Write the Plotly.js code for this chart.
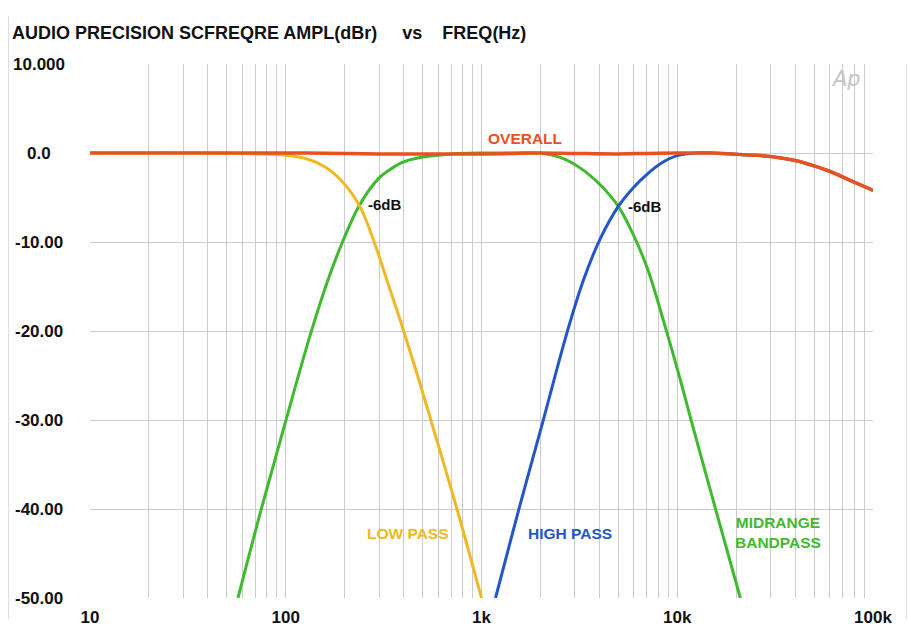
<!DOCTYPE html>
<html>
<head>
<meta charset="utf-8">
<script src="https://cdn.plot.ly/plotly-3.0.1.min.js"></script>
<style>html,body{margin:0;padding:0;background:#fff;}#chart{width:909px;height:631px;}</style>
</head>
<body>
<div id="chart"></div>
<script>
// ---- data ----
const freqOverall = [10,20,50,100,200,300,500,1000,2000,3000,5000,7000,10000,12600,15000,20000,25000,30000,40000,50000,60000,77000,100000];
const dbOverall   = [0,0,0,0,-0.05,-0.1,-0.1,-0.1,0,-0.05,-0.1,-0.05,0,0,0,-0.15,-0.25,-0.4,-0.85,-1.45,-2.05,-3.1,-4.2];

const freqLow = [10,40,70,100,130,160,198,239,281,331,395,488,603,754,1000];
const dbLow   = [0,0,-0.1,-0.25,-0.7,-1.6,-3.4,-6,-9.8,-14.5,-19.6,-26.1,-32.9,-40.2,-50];

const freqMid = [57,75,100,134,166,195,236,300,350,400,500,700,1000,1500,2000,2530,3200,4050,5000,5970,7100,8700,10400,11900,15600,21000];
const dbMid   = [-50,-40,-30.1,-20.3,-14.0,-10,-6,-2.8,-1.7,-1.0,-0.45,-0.1,0,0,0,-0.5,-1.7,-3.6,-6,-9.2,-13.2,-19.6,-25.6,-30.4,-39.8,-50];

const freqHigh = [1179,1544,2057,2716,3315,4050,5000,5965,7000,8200,10000,12600,15000,20000,25000,30000,40000,50000,60000,77000,100000];
const dbHigh   = [-50,-40.2,-30.2,-20.4,-14.3,-9.6,-6,-3.9,-2.4,-1.2,-0.3,0,0,-0.15,-0.25,-0.4,-0.85,-1.45,-2.05,-3.1,-4.2];

const decadeTicks  = [10,100,1000,10000,100000];
const decadeLabels = ['10','100','1k','10k','100k'];
const yTickVals    = [10,0,-10,-20,-30,-40,-50];
const yTickLabels  = ['10.000','0.0','-10.00','-20.00','-30.00','-40.00','-50.00'];

// ---- build axis ticks (grid at every 1..9 multiple) ----
const xTickVals = [], xTickText = [];
decadeTicks.forEach((d, i) => {
  const last = i === decadeTicks.length - 1;
  for (let m = 1; m <= (last ? 1 : 9); m++) {
    xTickVals.push(d * m);
    xTickText.push(m === 1 ? decadeLabels[i] : '');
  }
});

const FONT = '"Liberation Sans", Arial, Helvetica, sans-serif';
const COL = {overall:'#e8521e', low:'#f0b923', mid:'#3fba2e', high:'#2356c8'};

function trace(x, y, color, w) {
  return {x: x, y: y, type: 'scatter', mode: 'lines',
          line: {color: color, width: w || 3, shape: 'spline', smoothing: 1},
          hoverinfo: 'skip', showlegend: false};
}

const data = [
  trace(freqMid, dbMid, COL.mid),
  trace(freqLow, dbLow, COL.low),
  trace(freqHigh, dbHigh, COL.high),
  trace(freqOverall, dbOverall, COL.overall, 3.5)
];

const annotations = yTickVals.map((v, i) => ({
  x: -0.0651, xref: 'paper', y: v, yref: 'y', text: yTickLabels[i],
  showarrow: false, xanchor: 'center', yanchor: 'middle',
  font: {family: FONT, size: 17, color: '#111', weight: 700}
}));

function lbl(lx, y, text, color, size, anchor) {
  return {x: lx, y: y, xref: 'x', yref: 'y', text: text, showarrow: false,
    xanchor: anchor || 'center', yanchor: 'middle',
    font: {family: FONT, size: size, color: color, weight: 700}};
}
annotations.push(lbl(3.222, 1.6, 'OVERALL', COL.overall, 15.5));
annotations.push(lbl(2.41, -5.8, '-6dB', '#111', 15, 'left'));
annotations.push(lbl(3.738, -6.0, '-6dB', '#111', 15, 'left'));
annotations.push(lbl(2.625, -42.8, 'LOW PASS', COL.low, 15.5));
annotations.push(lbl(3.452, -42.8, 'HIGH PASS', COL.high, 15.5));
annotations.push(lbl(4.515, -42.6, 'MIDRANGE<br>BANDPASS', COL.mid, 15.5));
annotations.push({x: 4.862, y: 8.3, xref: 'x', yref: 'y', text: 'Ap', showarrow: false,
  font: {family: '"DejaVu Sans", sans-serif', size: 21, color: '#c4c4c4', style: 'italic', weight: 300}});

const layout = {
  width: 909, height: 631,
  margin: {l: 90, r: 36, t: 64, b: 33},
  paper_bgcolor: '#ffffff', plot_bgcolor: '#ffffff',
  title: {text: 'AUDIO PRECISION SCFREQRE AMPL(dBr)\u00a0\u00a0\u00a0\u00a0\u00a0vs\u00a0\u00a0\u00a0\u00a0FREQ(Hz)',
          x: 12/909, xanchor: 'left', xref: 'container',
          y: 1 - 33/631, yanchor: 'middle', yref: 'container',
          font: {family: FONT, size: 18, color: '#111', weight: 700}},
  xaxis: {type: 'log', range: [1, 5], tickmode: 'array', tickvals: xTickVals, ticktext: xTickText,
          showgrid: true, gridcolor: '#cbcbcb', gridwidth: 1, zeroline: false, showline: false,
          ticks: '', ticklabelstandoff: 7,
          tickfont: {family: FONT, size: 17, color: '#111', weight: 700}},
  yaxis: {range: [-50, 10], tickmode: 'array', tickvals: [0,-10,-20,-30,-40],
          showticklabels: false, showgrid: true, gridcolor: '#cbcbcb', gridwidth: 1,
          zeroline: false, showline: false, ticks: ''},
  annotations: annotations,
  shapes: [
    {type: 'line', xref: 'paper', yref: 'paper', x0: -0.104, x1: -0.104, y0: -0.04, y1: 1.09,
     line: {color: '#dcdcdc', width: 1}},
    {type: 'line', xref: 'paper', yref: 'paper', x0: 1.0425, x1: 1.0425, y0: -0.04, y1: 1.0,
     line: {color: '#dcdcdc', width: 1}}
  ]
};

Plotly.newPlot('chart', data, layout, {displayModeBar: false, staticPlot: true});
</script>
</body>
</html>
